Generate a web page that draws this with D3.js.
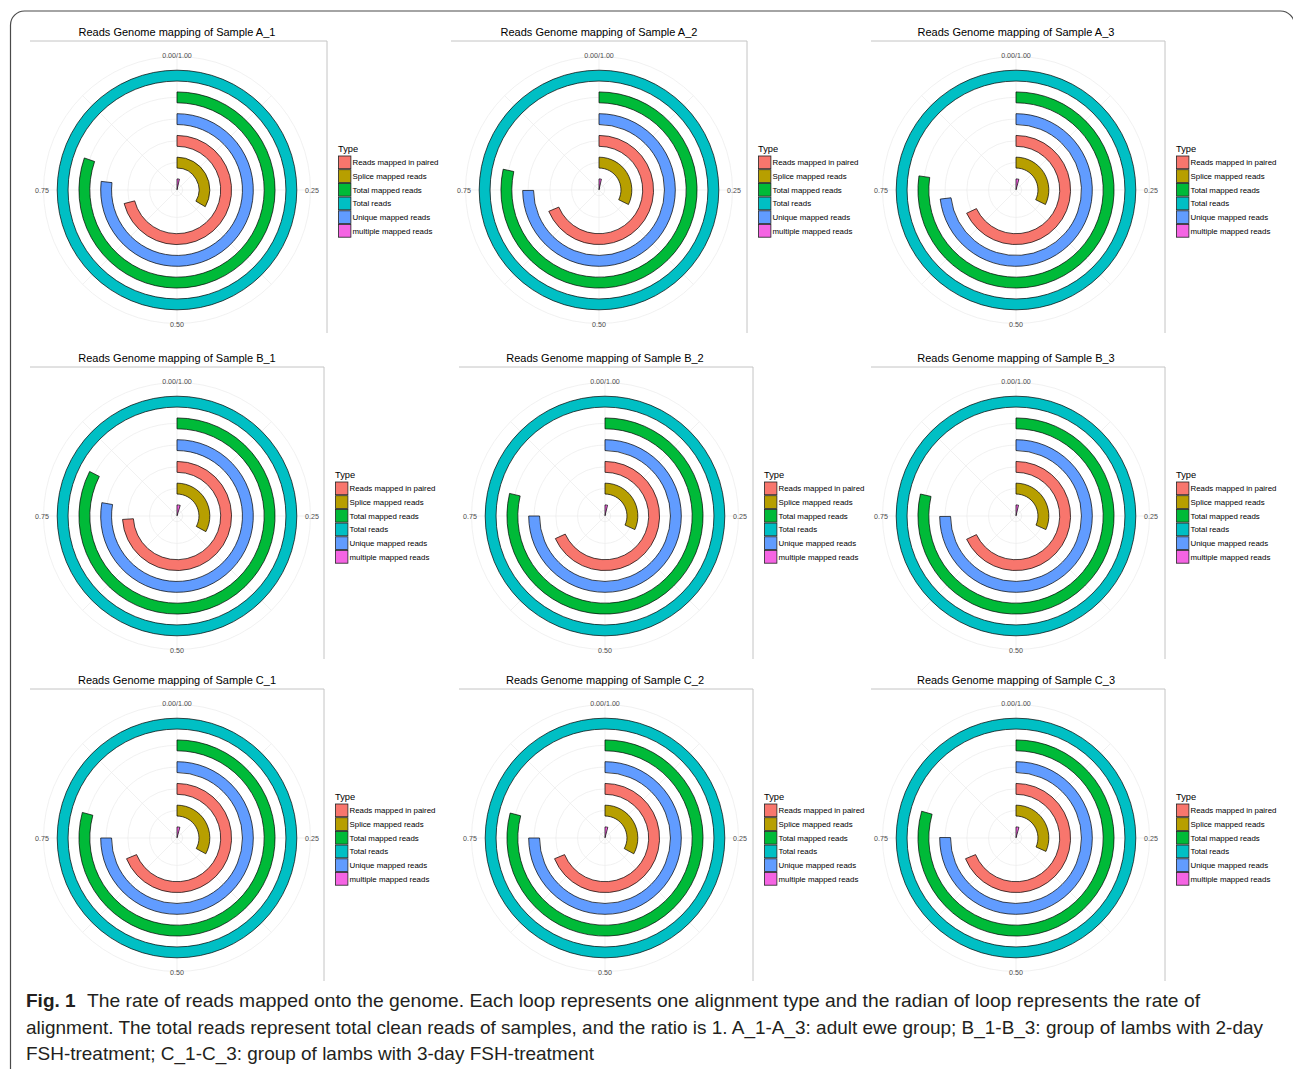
<!DOCTYPE html>
<html>
<head>
<meta charset="utf-8">
<script src="https://cdn.jsdelivr.net/npm/d3@7"></script>
<style>
body { margin: 0; background: #fff; }
svg { display: block; }
text { font-family: "Liberation Sans", Arial, Helvetica, sans-serif; }
</style>
</head>
<body>
<svg id="fig" width="1293" height="1069"></svg>
<script>
// samples, one panel each
var samples = ["A_1", "A_2", "A_3", "B_1", "B_2", "B_3", "C_1", "C_2", "C_3"];

// legend order (ggplot alphabetical)
var typeNames = ["Reads mapped in paired", "Splice mapped reads", "Total mapped reads",
	"Total reads", "Unique mapped reads", "multiple mapped reads"];
var typeColors = ["#F8766D", "#B79F00", "#00BA38", "#00BFC4", "#619CFF", "#F564E3"];

// rings from centre outwards
var ringOrder = ["multiple mapped reads", "Splice mapped reads", "Reads mapped in paired",
	"Unique mapped reads", "Total mapped reads", "Total reads"];

// mapping rates, one value per sample
var totalReads     = [1, 1, 1, 1, 1, 1, 1, 1, 1];
var totalMapped    = [0.803, 0.784, 0.773, 0.825, 0.787, 0.786, 0.792, 0.791, 0.794];
var uniqueMapped   = [0.768, 0.749, 0.731, 0.778, 0.750, 0.749, 0.750, 0.750, 0.751];
var pairedMapped   = [0.710, 0.686, 0.680, 0.740, 0.682, 0.680, 0.688, 0.688, 0.688];
var spliceMapped   = [0.335, 0.323, 0.323, 0.329, 0.318, 0.318, 0.330, 0.330, 0.317];
var multipleMapped = [0.035, 0.035, 0.042, 0.047, 0.037, 0.037, 0.042, 0.041, 0.043];

var thetaTicks  = [0, 0.25, 0.5, 0.75];
var thetaLabels = ["0.00/1.00", "0.25", "0.50", "0.75"];
var thetaMinor  = [0.125, 0.375, 0.625, 0.875];

var captionBold = "Fig. 1";
var captionLines = [
	"The rate of reads mapped onto the genome. Each loop represents one alignment type and the radian of loop represents the rate of",
	"alignment. The total reads represent total clean reads of samples, and the ratio is 1. A_1-A_3: adult ewe group; B_1-B_3: group of lambs with 2-day",
	"FSH-treatment; C_1-C_3: group of lambs with 3-day FSH-treatment"
];

var seriesByType = {
	"Reads mapped in paired": pairedMapped,
	"Splice mapped reads": spliceMapped,
	"Total mapped reads": totalMapped,
	"Total reads": totalReads,
	"Unique mapped reads": uniqueMapped,
	"multiple mapped reads": multipleMapped
};

// panel layout: circle centre and the two grey frame edges
var layout = [
	{cx: 177, cy: 190, left: 30,  right: 327},
	{cx: 599, cy: 190, left: 451, right: 747},
	{cx: 1016, cy: 190, left: 871, right: 1165},
	{cx: 177, cy: 516, left: 30,  right: 324},
	{cx: 605, cy: 516, left: 459, right: 753},
	{cx: 1016, cy: 516, left: 871, right: 1165},
	{cx: 177, cy: 838, left: 30,  right: 324},
	{cx: 605, cy: 838, left: 459, right: 753},
	{cx: 1016, cy: 838, left: 871, right: 1165}
];

var svg = d3.select("#fig");
svg.append("rect").attr("width", 1293).attr("height", 1069).attr("fill", "#fff");

// outer rounded frame
svg.append("rect")
	.attr("x", 10.5).attr("y", 11)
	.attr("width", 1284).attr("height", 1100)
	.attr("rx", 14)
	.attr("fill", "none")
	.attr("stroke", "#4a4a4a")
	.attr("stroke-width", 1.2);

var theta = d3.scaleLinear().domain([0, 1]).range([0, 2 * Math.PI]);
var radius = d3.scaleLinear().domain([0.74, 6.88]).range([0, 133.5]);
var color = d3.scaleOrdinal().domain(typeNames).range(typeColors);
var ringPos = d3.scaleOrdinal().domain(ringOrder).range([1, 2, 3, 4, 5, 6]);
var barWidth = 0.5;
var outerR = radius(6.88);

var arc = d3.arc()
	.innerRadius(function(d) { return radius(ringPos(d.type) - barWidth / 2); })
	.outerRadius(function(d) { return radius(ringPos(d.type) + barWidth / 2); })
	.startAngle(0)
	.endAngle(function(d) { return theta(d.value); });

function drawPanel(i) {
	var L = layout[i];
	var g = svg.append("g");

	// title
	g.append("text")
		.attr("x", L.cx).attr("y", L.cy - 154)
		.attr("text-anchor", "middle")
		.attr("font-size", 11)
		.attr("fill", "#000")
		.text("Reads Genome mapping of Sample " + samples[i]);

	// frame: top and right edges only
	g.append("path")
		.attr("d", "M" + L.left + "," + (L.cy - 149) + "H" + L.right + "V" + (L.cy + 143))
		.attr("fill", "none")
		.attr("stroke", "#c4c4c4")
		.attr("stroke-width", 1);

	var p = g.append("g").attr("transform", "translate(" + L.cx + "," + L.cy + ")");

	// grid: spokes
	p.selectAll("line.spoke")
		.data(thetaTicks.concat(thetaMinor))
		.join("line")
		.attr("class", "spoke")
		.attr("x1", 0).attr("y1", 0)
		.attr("x2", function(t) { return d3.pointRadial(theta(t), outerR)[0]; })
		.attr("y2", function(t) { return d3.pointRadial(theta(t), outerR)[1]; })
		.attr("stroke", "#ebebeb")
		.attr("stroke-width", 0.7);

	// grid: circles at ring centres and outer circle
	p.selectAll("circle.grid")
		.data([1, 2, 3, 4, 5, 6, 6.88])
		.join("circle")
		.attr("class", "grid")
		.attr("r", function(d) { return radius(d); })
		.attr("fill", "none")
		.attr("stroke", "#ebebeb")
		.attr("stroke-width", 0.7);

	// bars
	var rows = typeNames.map(function(t) {
		return {type: t, value: seriesByType[t][i]};
	});
	p.selectAll("path.bar")
		.data(rows)
		.join("path")
		.attr("class", "bar")
		.attr("d", arc)
		.attr("fill", function(d) { return color(d.type); })
		.attr("stroke", "#000")
		.attr("stroke-width", 0.7);

	// theta labels
	p.selectAll("text.tick")
		.data(thetaTicks)
		.join("text")
		.attr("class", "tick")
		.attr("x", function(t) { return d3.pointRadial(theta(t), 135)[0]; })
		.attr("y", function(t) { return d3.pointRadial(theta(t), 135)[1]; })
		.attr("dy", "0.35em")
		.attr("text-anchor", "middle")
		.attr("font-size", 7.1)
		.attr("fill", "#4d4d4d")
		.text(function(t, k) { return thetaLabels[k]; });

	// legend
	var lg = g.append("g").attr("transform", "translate(" + (L.right + 11) + "," + (L.cy - 34.5) + ")");
	lg.append("text")
		.attr("x", 0).attr("y", -4)
		.attr("font-size", 9.3)
		.attr("fill", "#000")
		.text("Type");
	var items = lg.selectAll("g.item")
		.data(typeNames)
		.join("g")
		.attr("class", "item")
		.attr("transform", function(d, k) { return "translate(0," + (k * 13.7) + ")"; });
	items.append("rect")
		.attr("x", 0.5).attr("y", 0.5)
		.attr("width", 12.4).attr("height", 12.7)
		.attr("fill", function(d) { return color(d); })
		.attr("stroke", "#222")
		.attr("stroke-width", 0.8);
	items.append("text")
		.attr("x", 14.5).attr("y", 6.9)
		.attr("dy", "0.35em")
		.attr("font-size", 7.9)
		.attr("fill", "#000")
		.text(function(d) { return d; });
}

for (var i in samples) {
	drawPanel(+i);
}

// caption
var cap = svg.append("g").attr("fill", "#231f20");
cap.append("text")
	.attr("x", 26).attr("y", 1007)
	.attr("font-size", 19)
	.attr("font-weight", "bold")
	.text(captionBold);
var capStarts = [87, 26, 26];
var capEnds = [1200, 1263, 594];
var capY = [1007, 1034, 1060];
cap.selectAll("text.cap")
	.data(captionLines)
	.join("text")
	.attr("class", "cap")
	.attr("x", function(d, k) { return capStarts[k]; })
	.attr("y", function(d, k) { return capY[k]; })
	.attr("font-size", 19)
	.attr("textLength", function(d, k) { return capEnds[k] - capStarts[k]; })
	.attr("lengthAdjust", "spacingAndGlyphs")
	.text(function(d) { return d; });
</script>
</body>
</html>
